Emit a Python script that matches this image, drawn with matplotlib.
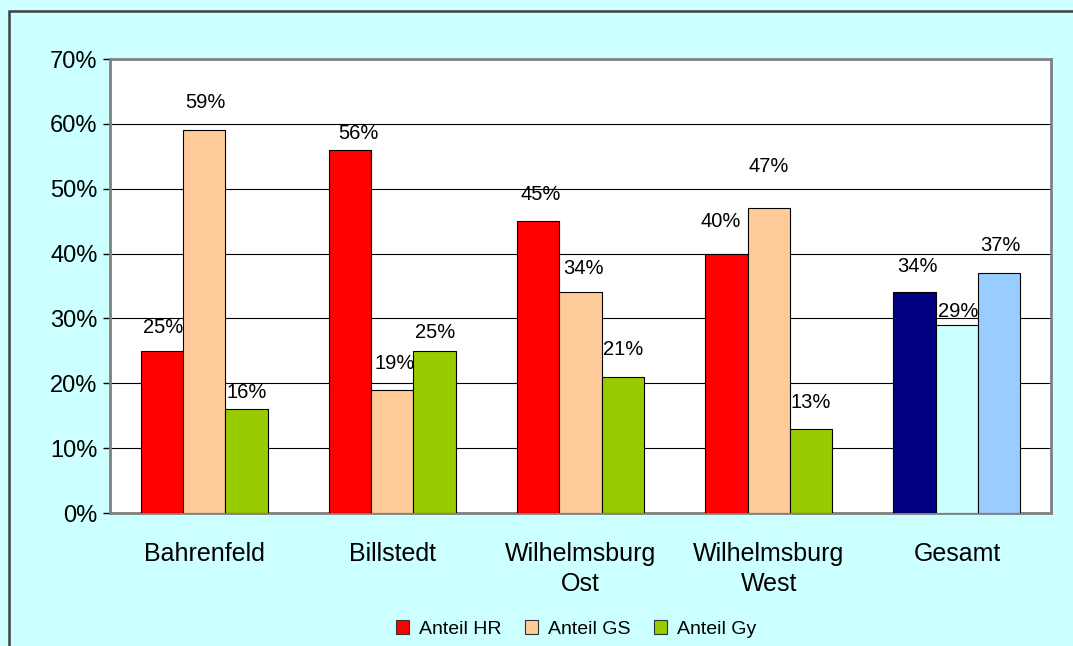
import numpy as np
import matplotlib
matplotlib.use('Agg')
from matplotlib import pyplot as plt
from matplotlib.patches import Rectangle

plt.rcParams['font.family'] = ['Liberation Sans', 'DejaVu Sans']

# data
categories = ['Bahrenfeld', 'Billstedt', 'Wilhelmsburg\nOst', 'Wilhelmsburg\nWest', 'Gesamt']
series_names = ['Anteil HR', 'Anteil GS', 'Anteil Gy']
anteil_hr = [25, 56, 45, 40, 34]
anteil_gs = [59, 19, 34, 47, 29]
anteil_gy = [16, 25, 21, 13, 37]
y_ticks = [0, 10, 20, 30, 40, 50, 60, 70]

# styling
colors = ['#FF0000', '#FFCC99', '#99CC00']
gesamt_colors = ['#000080', '#CCFFFF', '#99CCFF']
bg = '#CCFFFF'
# label vertical offsets above the bar tops (points), to mimic the original placement
label_dy = [
    [17, 12, 19, 23, 19],
    [20, 19, 17, 30, 10],
    [12, 13, 20, 19, 20],
]
label_dx = [
    [1, 6, 2, -4, 2],
    [1, 2, 2, 0, 1],
    [0, 0, 0, 0, 1],
]

fig = plt.figure(figsize=(10.73, 6.46), dpi=100)
fig.patch.set_facecolor(bg)
ax = fig.add_axes([110 / 1073, 1 - 513 / 646, 941 / 1073, 454 / 646])
ax.set_facecolor('white')

# outer chart border
fig.add_artist(Rectangle((9 / 1073, -0.05), 1.1, (646 - 11) / 646 + 0.05,
                         transform=fig.transFigure, fill=False,
                         edgecolor='#404040', lw=1.8, zorder=0))

x = np.arange(len(categories))
w = 0.225
all_series = [anteil_hr, anteil_gs, anteil_gy]
for i, vals in enumerate(all_series):
    xs = x + (i - 1) * w
    cols = [colors[i]] * (len(categories) - 1) + [gesamt_colors[i]]
    ax.bar(xs, vals, w, color=cols, edgecolor='black', lw=0.8, zorder=3,
           label=series_names[i])
    for j, v in enumerate(vals):
        ax.annotate(f'{v}%', (xs[j], v), xytext=(label_dx[i][j], label_dy[i][j]),
                    textcoords='offset points', ha='center', va='center',
                    fontsize=14.5, zorder=4)

ax.set_xlim(-0.5, len(categories) - 0.5)
ax.set_ylim(0, 70)
ax.set_yticks(y_ticks)
ax.set_yticklabels([f'{t}%' for t in y_ticks], fontsize=17)
ax.set_xticks(x)
ax.set_xticklabels(categories, fontsize=18, linespacing=1.3)
ax.tick_params(axis='x', length=0, pad=21)
ax.tick_params(axis='y', length=5, width=1, direction='out', pad=4)

ax.yaxis.grid(True, color='black', lw=0.8, zorder=1)
ax.set_axisbelow(True)
for s in ax.spines.values():
    s.set_color('#808080')
    s.set_linewidth(2)

leg = ax.legend(loc='center', bbox_to_anchor=(576 / 1073, 1 - 629 / 646),
                bbox_transform=fig.transFigure, ncol=3, frameon=False,
                fontsize=14, handlelength=0.7, handleheight=0.7,
                handletextpad=0.5, columnspacing=1.2)
for h in leg.legend_handles:
    h.set_edgecolor('#333333')

fig.savefig('out.png', dpi=100, facecolor=bg)
